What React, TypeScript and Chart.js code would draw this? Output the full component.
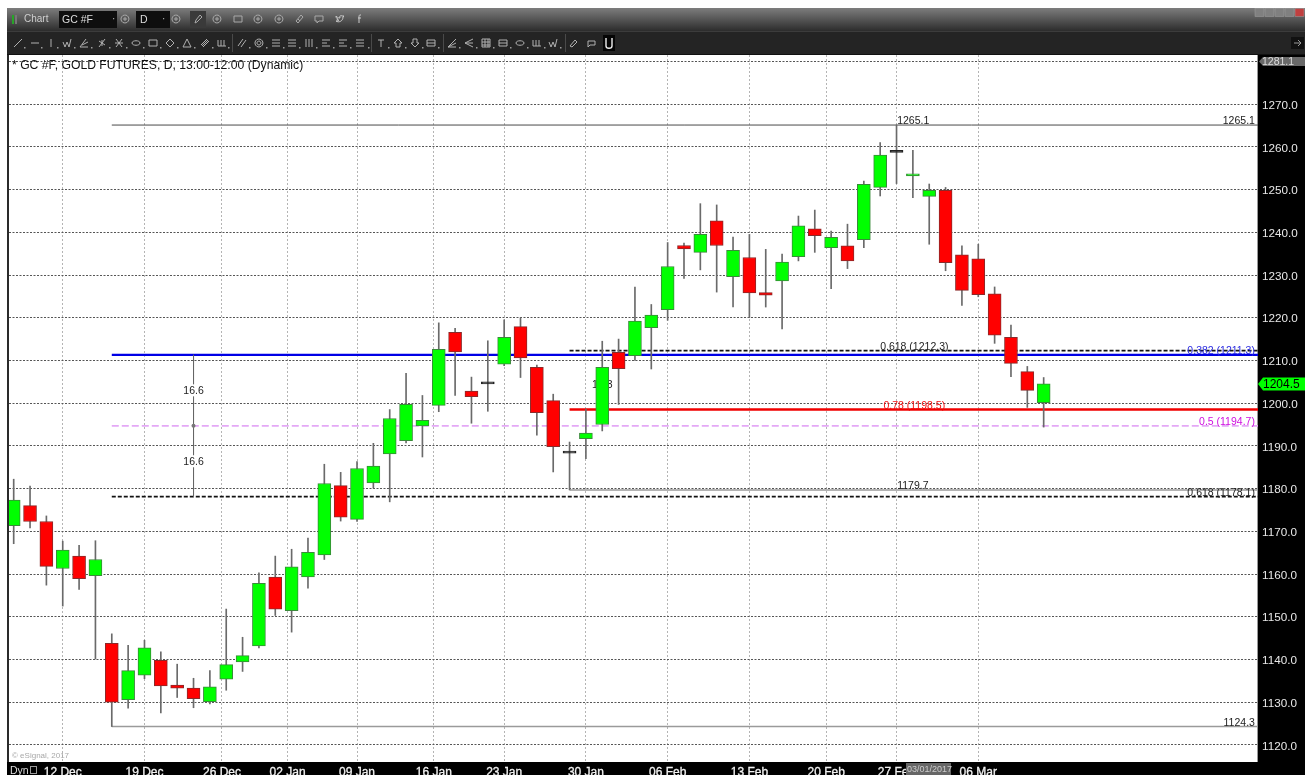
import React, { useEffect, useRef } from "react";
import { Chart, registerables } from "chart.js";

Chart.register(...registerables);

const opens = [1171.3,1176.0,1172.3,1161.3,1164.2,1159.6,1143.8,1130.6,1136.3,1139.8,1134.0,1133.3,1130.1,1135.4,1139.4,1143.2,1159.3,1151.4,1159.3,1164.5,1180.7,1172.8,1181.3,1188.1,1191.2,1194.7,1199.5,1216.6,1202.8,1204.5,1209.1,1217.9,1208.4,1200.6,1188.3,1191.7,1195.0,1211.9,1211.1,1217.7,1221.9,1236.9,1235.3,1242.7,1229.6,1234.1,1225.9,1228.6,1234.3,1240.8,1236.4,1236.8,1238.3,1250.5,1258.7,1253.2,1248.4,1249.8,1234.7,1233.8,1225.6,1215.4,1207.4,1200.1];
const closes = [1177.3,1172.3,1161.8,1165.6,1158.9,1163.4,1130.0,1137.4,1142.7,1133.8,1133.3,1130.8,1133.6,1138.8,1140.9,1157.8,1151.8,1161.7,1165.1,1181.2,1173.3,1184.7,1185.3,1196.4,1199.7,1196.0,1212.6,1212.0,1201.5,1204.5,1215.4,1210.6,1197.8,1189.8,1188.3,1193.0,1208.4,1208.1,1219.2,1220.6,1232.0,1236.1,1239.5,1236.9,1235.8,1225.8,1225.3,1233.0,1241.5,1239.2,1238.8,1233.3,1251.2,1258.1,1258.7,1253.7,1249.8,1232.9,1226.4,1225.4,1215.9,1209.3,1203.0,1204.5];
const highs = [1182.2,1180.6,1173.6,1167.7,1166.7,1167.8,1146.0,1143.3,1144.5,1141.8,1138.9,1135.6,1137.4,1151.8,1145.2,1160.3,1164.2,1165.8,1168.4,1185.7,1183.8,1186.3,1190.6,1198.5,1207.0,1201.8,1218.8,1217.5,1206.1,1214.6,1219.5,1220.0,1208.9,1202.1,1190.9,1198.6,1214.5,1215.0,1227.2,1223.1,1237.6,1237.5,1246.7,1246.4,1238.9,1239.5,1236.0,1234.9,1243.8,1245.2,1240.3,1241.9,1252.0,1261.0,1265.1,1259.2,1251.3,1250.5,1236.8,1237.2,1227.2,1218.3,1208.6,1206.0];
const lows = [1167.1,1170.8,1157.4,1152.5,1156.4,1140.1,1124.3,1128.6,1135.5,1127.5,1131.1,1128.7,1129.6,1132.8,1137.2,1142.7,1150.3,1146.4,1156.7,1163.4,1172.4,1172.3,1180.1,1176.9,1190.7,1187.4,1198.0,1201.8,1195.3,1198.1,1208.8,1206.0,1192.5,1183.9,1179.7,1187.0,1193.5,1199.7,1210.0,1208.0,1219.4,1229.2,1231.2,1226.0,1222.5,1220.0,1222.5,1217.4,1233.3,1235.3,1226.8,1231.5,1236.4,1248.5,1251.4,1248.1,1237.2,1231.0,1222.9,1224.9,1214.0,1206.2,1199.0,1194.4];

const dateLabels = ["12 Dec","19 Dec","26 Dec","02 Jan","09 Jan","16 Jan","23 Jan","30 Jan","06 Feb","13 Feb","20 Feb","27 Feb","06 Mar"];
const dateTickPositions = [3,8,12.74,16.75,21,25.7,30,35,40,45,49.7,54,59];
const priceTicks = [1120,1130,1140,1150,1160,1170,1180,1190,1200,1210,1220,1230,1240,1250,1260,1270,1280];

const levelNames = ["high","low","swingLow","blue382","black618Up","red78","magenta50","black618Down"];
const levelPrices = [1265.1,1124.3,1179.7,1211.3,1212.3,1198.5,1194.7,1178.1];
const levelStarts = [6,6,34,6,34,34,6,6];

const measureValues = [1211.3,1194.7,1178.1];
const measureIndex = 11;

const chartLabels = [
  { text: "1265.1", price: 1265.1, at: 54.04, color: "#222", align: "left" },
  { text: "1265.1", price: 1265.1, at: 75.92, color: "#222", align: "right" },
  { text: "1179.7", price: 1179.7, at: 54.04, color: "#222", align: "left" },
  { text: "1124.3", price: 1124.3, at: 75.92, color: "#222", align: "right" },
  { text: "0.618 (1212.3)", price: 1212.3, at: 53, color: "#222", align: "left" },
  { text: "0.382 (1211.3)", price: 1211.3, at: 75.92, color: "#2a2ae0", align: "right" },
  { text: "0.78 (1198.5)", price: 1198.5, at: 53.2, color: "#f01010", align: "left" },
  { text: "0.5 (1194.7)", price: 1194.7, at: 75.92, color: "#d010e0", align: "right" },
  { text: "0.618 (1178.1)", price: 1178.1, at: 75.92, color: "#222", align: "right" },
];
const measureLabels = [
  { text: "16.6", price: 1203.0 },
  { text: "16.6", price: 1186.4 },
];
const hiddenLabel = { text: "16.3", price: 1204.2, at: 36 };
const lastPrice = "1204.5";
const topPrice = "1281.1";
const cursorDate = "03/01/2017";

const FONT = '"Liberation Sans", Arial, sans-serif';
const GREEN = "#00ff00";
const RED = "#ff0000";
const X_MIN = -0.287;
const X_MAX = 76.11;

const levelStyle: Record<string, any> = {
  high: { borderColor: "#4a4a4a", borderWidth: 1 },
  low: { borderColor: "#9a9a9a", borderWidth: 1.5 },
  swingLow: { borderColor: "#9a9a9a", borderWidth: 1.5 },
  blue382: { borderColor: "#0000e6", borderWidth: 2.4 },
  black618Up: { borderColor: "#111", borderWidth: 1.8, borderDash: [4, 2] },
  red78: { borderColor: "#f00000", borderWidth: 2.6 },
  magenta50: { borderColor: "#e4a8f6", borderWidth: 1.8, borderDash: [7, 3] },
  black618Down: { borderColor: "#111", borderWidth: 1.8, borderDash: [4, 2] },
};

const chromePlugin = {
  id: "chrome",
  beforeDraw(chart: any) {
    const { ctx, chartArea: a, width, height } = chart;
    ctx.save();
    ctx.fillStyle = "#000";
    ctx.fillRect(7, a.bottom, width - 7, height - a.bottom);
    ctx.fillRect(a.right, a.top, width - a.right, a.bottom - a.top);
    ctx.fillStyle = "#2a2a2a";
    ctx.fillRect(7, a.top, 2, a.bottom - a.top);
    ctx.fillStyle = "#fff";
    ctx.fillRect(a.left, a.top, a.right - a.left, a.bottom - a.top);
    ctx.fillStyle = "#999";
    ctx.fillRect(a.right - 1, a.top, 1, a.bottom - a.top);
    ctx.restore();
  },
  beforeDatasetsDraw(chart: any) {
    const { ctx, scales } = chart;
    ctx.save();
    ctx.font = `10.5px ${FONT}`;
    ctx.fillStyle = "#222";
    ctx.textAlign = "center";
    ctx.textBaseline = "middle";
    ctx.fillText(hiddenLabel.text, scales.x.getPixelForValue(hiddenLabel.at), scales.y.getPixelForValue(hiddenLabel.price));
    ctx.restore();
  },
  afterDatasetsDraw(chart: any) {
    const { ctx, scales, chartArea: a } = chart;
    const { x, y } = scales;
    ctx.save();
    ctx.font = `10.5px ${FONT}`;
    ctx.textBaseline = "alphabetic";
    chartLabels.forEach((l) => {
      ctx.fillStyle = l.color;
      ctx.textAlign = l.align as CanvasTextAlign;
      ctx.fillText(l.text, x.getPixelForValue(l.at), y.getPixelForValue(l.price) - 1);
    });
    ctx.textAlign = "center";
    ctx.textBaseline = "middle";
    measureLabels.forEach((l) => {
      const px = x.getPixelForValue(measureIndex);
      const py = y.getPixelForValue(l.price);
      ctx.fillStyle = "#fff";
      ctx.fillRect(px - 11, py - 6, 22, 12);
      ctx.fillStyle = "#222";
      ctx.fillText(l.text, px, py + 1);
    });
    ctx.textAlign = "left";
    ctx.fillStyle = "#111";
    ctx.font = `12.2px ${FONT}`;
    ctx.fillText("* GC #F, GOLD FUTURES, D, 13:00-12:00 (Dynamic)", a.left + 3, a.top + 11);
    ctx.fillStyle = "#a8a8a8";
    ctx.font = `8px ${FONT}`;
    ctx.fillText("\u00a9 eSignal, 2017", a.left + 3, 756);

    ctx.fillStyle = "#6a6a6a";
    ctx.beginPath();
    ctx.moveTo(a.right + 1, 61.5);
    ctx.lineTo(a.right + 5, 57);
    ctx.lineTo(1305, 57);
    ctx.lineTo(1305, 66);
    ctx.lineTo(a.right + 5, 66);
    ctx.closePath();
    ctx.fill();
    ctx.fillStyle = "#ddd";
    ctx.font = `10.5px ${FONT}`;
    ctx.fillText(topPrice, a.right + 4, 62);

    const last = y.getPixelForValue(Number(lastPrice));
    ctx.fillStyle = GREEN;
    ctx.beginPath();
    ctx.moveTo(a.right, last);
    ctx.lineTo(a.right + 5, last - 6.5);
    ctx.lineTo(1305, last - 6.5);
    ctx.lineTo(1305, last + 6.5);
    ctx.lineTo(a.right + 5, last + 6.5);
    ctx.closePath();
    ctx.fill();
    ctx.fillStyle = "#000";
    ctx.font = `12px ${FONT}`;
    ctx.fillText(lastPrice, a.right + 5, last + 0.5);

    ctx.fillStyle = "#666";
    ctx.fillRect(906, a.bottom + 1, 45, 13);
    ctx.fillStyle = "#ccc";
    ctx.font = `9px ${FONT}`;
    ctx.fillText(cursorDate, 907, a.bottom + 8);

    ctx.fillStyle = "#000";
    ctx.fillRect(9, a.bottom + 1, 31, 13);
    ctx.fillStyle = "#ddd";
    ctx.font = `10.5px ${FONT}`;
    ctx.fillText("Dyn", 10, a.bottom + 9);
    ctx.strokeStyle = "#999";
    ctx.strokeRect(30.5, a.bottom + 4.5, 6, 7);
    ctx.restore();
  },
};

/* toolbar glyphs: small icon shapes, drawn in a 10x10 box */
const G: Record<string, string> = {
  slash: "M1 9L9 1",
  dash: "M1 5H9",
  bar: "M5 1V9",
  check: "M1 4L3 9L5 4L7 9L9 1",
  angle: "M1 9H9M1 9L7 1M3 7L9 4",
  star: "M2 9L8 1M2 3L8 7M5 2V8",
  cross: "M2 1L8 9M2 9L8 1M1 5H9",
  oval: "M1 5C1 2 9 2 9 5C9 8 1 8 1 5Z",
  square: "M1 2H9V8H1Z",
  diamond: "M5 1L9 5L5 9L1 5Z",
  tri: "M5 1L9 9H1Z",
  band: "M1 7L7 1M3 9L9 3M2 8L8 2",
  wave: "M1 2V8M4 2V8M7 2V8M1 8H9",
  dbl: "M1 8L6 1M4 9L9 2",
  target: "M5 1A4 4 0 1 1 4.9 1M5 3A2 2 0 1 1 4.9 3",
  lines3: "M1 2H9M1 5H9M1 8H9",
  vlines: "M2 1V9M5 1V9M8 1V9",
  lines2: "M1 2H9M1 8H9M1 5H6",
  T: "M2 2H8M5 2V9",
  up: "M5 1L9 5H7V9H3V5H1Z",
  down: "M5 9L1 5H3V1H7V5H9Z",
  block: "M1 2H9V8H1ZM1 5H9",
  fan: "M1 9L9 1M1 9L9 5M1 9H9",
  fan2: "M9 1L1 5L9 9M9 5H1",
  grid: "M1 1H9V9H1ZM4 1V9M7 1V9M1 4H9M1 7H9",
  eraser: "M2 8L7 2L9 4L4 9Z",
  note: "M1 3H8V7H3L1 9Z",
  circleQ: "M5 1A4 4 0 1 1 4.9 1M4 4H6V6H4Z",
  pencil: "M2 9L3 6L7 1L9 3L4 8Z",
  link: "M2 7L4 9L9 3L7 1ZM4 5L6 7",
  bubble: "M1 2H9V7H5L3 9V7H1Z",
  bird: "M1 7C4 9 8 7 8 3L9 2L7 2C6 1 4 2 5 4C3 4 2 3 1 2C1 4 2 5 3 5L2 5C2 6 3 6 4 6C3 7 2 7 1 7Z",
  f: "M6 1H5C4 1 4 2 4 3V9M3 4H6",
};

const row1Icons: [string, number][] = [
  ["circleQ", 125], ["circleQ", 176], ["pencil", 198], ["circleQ", 217], ["square", 238],
  ["circleQ", 258], ["circleQ", 279], ["link", 299], ["bubble", 319], ["bird", 340], ["f", 360],
];
const row2Icons: [string, number][] = [
  ["slash",18],["dash",35],["bar",51],["check",67],["angle",84],["star",102],["cross",119],["oval",136],["square",153],["diamond",170],["tri",187],["band",205],["wave",222],
  ["dbl",242],["target",259],["lines3",276],["lines3",292],["vlines",309],["lines2",326],["lines2",343],["lines3",360],
  ["T",381],["up",398],["down",415],["block",431],
  ["fan",452],["fan2",469],["grid",486],["block",503],["oval",520],["wave",537],["check",553],
  ["eraser",573],["note",592],
];
const row2Arrows = [24,41,57,74,91,109,126,143,160,177,194,212,228,249,266,283,299,316,333,350,368,388,405,422,438,459,476,493,510,527,544,560];
const row2Seps = [232, 371, 443, 565];

function Icon({ name, cx, cy, color = "#b0b0b0" }: { name: string; cx: number; cy: number; color?: string }) {
  return (
    <path
      d={G[name]}
      transform={`translate(${cx - 5},${cy - 5})`}
      fill="none"
      stroke={color}
      strokeWidth={1}
    />
  );
}

function Toolbar() {
  const label: React.CSSProperties = { position: "absolute", fontFamily: FONT, whiteSpace: "pre" };
  const box: React.CSSProperties = { position: "absolute", background: "#0e0e0e", height: 17, top: 11 };
  return (
    <div style={{ position: "absolute", left: 7, right: 0, top: 8, height: 47, filter: "blur(0.35px)" }}>
      <div style={{ position: "absolute", left: 0, right: 0, top: 0, height: 23, background: "linear-gradient(#7d7d7d,#2c2c2c)" }} />
      <div style={{ position: "absolute", left: 0, right: 0, top: 23, height: 24, background: "#242424", borderTop: "1px solid #3c3c3c", boxSizing: "border-box" }} />
      <div style={{ position: "absolute", left: 0, right: 0, top: 46, height: 1, background: "#111" }} />
      <div style={{ ...box, left: 5, top: 7, width: 2, height: 9, background: "#27a527" }} />
      <div style={{ ...box, left: 8, top: 7, width: 2, height: 9, background: "#777" }} />
      <div style={{ ...label, left: 17, top: 4, fontSize: 10, color: "#cfcfcf", lineHeight: "14px" }}>Chart</div>
      <div style={{ ...box, left: 52, top: 3, width: 58, color: "#ddd" }} />
      <div style={{ ...label, left: 55, top: 4, fontSize: 10.5, color: "#ddd", lineHeight: "15px" }}>GC #F</div>
      <div style={{ ...label, left: 105, top: 3, fontSize: 10, color: "#bbb", lineHeight: "15px" }}>{"\u00b7"}</div>
      <div style={{ ...box, left: 129, top: 3, width: 34 }} />
      <div style={{ ...label, left: 133, top: 4, fontSize: 10.5, color: "#ddd", lineHeight: "15px" }}>D</div>
      <div style={{ ...label, left: 155, top: 3, fontSize: 10, color: "#bbb", lineHeight: "15px" }}>{"\u00b7"}</div>
      <div style={{ ...box, left: 183, top: 3, width: 16, background: "#3a3a3a" }} />
      <svg width={1298} height={47} style={{ position: "absolute", left: 0, top: 0 }}>
        {row1Icons.map(([n, x], i) => (
          <Icon key={i} name={n} cx={x - 7} cy={11} color={n === "f" || n === "bird" ? "#ccc" : "#a8a8a8"} />
        ))}
        {row2Icons.map(([n, x], i) => (
          <Icon key={i} name={n} cx={x - 7} cy={35} />
        ))}
        {row2Arrows.map((x, i) => (
          <rect key={i} x={x - 7} y={39} width={1.5} height={1.5} fill="#999" />
        ))}
        {row2Seps.map((x, i) => (
          <rect key={i} x={x - 7} y={26} width={1} height={18} fill="#4a4a4a" />
        ))}
        <rect x={596} y={27} width={12} height={16} fill="#050505" />
        <path d="M599 30V38C599 41 605 41 605 38V30" fill="none" stroke="#eee" strokeWidth={1.4} />
        <rect x={1284} y={29} width={13} height={12} fill="#111" />
        <path d="M1287 35H1294M1291 32L1294 35L1291 38" stroke="#999" fill="none" />
        {["#808080", "#808080", "#808080", "#808080", "#c04040"].map((c, i) => (
          <rect key={i} x={1248 + i * 10} y={0.5} width={9} height={8} fill={c} stroke="#a0a0a0" strokeWidth={0.5} />
        ))}
      </svg>
    </div>
  );
}

export default function App() {
  const ref = useRef<HTMLCanvasElement>(null);
  useEffect(() => {
    if (!ref.current) return;
    const levelSets = levelNames.map((name, i) => ({
      type: "line" as const,
      label: name,
      data: [
        { x: levelStarts[i], y: levelPrices[i] },
        { x: X_MAX, y: levelPrices[i] },
      ],
      pointRadius: 0,
      order: 10,
      ...levelStyle[name],
    }));
    const chart = new Chart(ref.current, {
      type: "bar",
      data: {
        datasets: [
          ...levelSets,
          {
            type: "line" as const,
            label: "measure",
            data: measureValues.map((v) => ({ x: measureIndex, y: v })),
            borderColor: "#666",
            borderWidth: 1,
            pointRadius: [0, 2, 0],
            pointBackgroundColor: "#777",
            pointBorderWidth: 0,
            order: 9,
          },
          {
            type: "bar" as const,
            label: "wicks",
            data: highs.map((h, i) => ({ x: i, y: [lows[i], h] })),
            backgroundColor: "#6a6a6a",
            borderWidth: 0,
            barThickness: 1,
            grouped: false,
            order: 5,
          },
          {
            type: "bar" as const,
            label: "bodies",
            data: opens.map((o, i) => ({ x: i, y: [o, closes[i]] })),
            backgroundColor: opens.map((o, i) => (closes[i] === o ? "#222" : closes[i] > o ? GREEN : RED)),
            borderColor: opens.map((o, i) => (closes[i] === o ? "#222" : closes[i] > o ? "#3a8a3a" : "#8a2a2a")),
            borderWidth: 1,
            borderSkipped: false,
            barThickness: 13,
            minBarLength: 2,
            grouped: false,
            order: 1,
          },
        ] as any,
      },
      options: {
        responsive: false,
        animation: false,
        devicePixelRatio: 1,
        events: [],
        layout: { padding: { left: 9, top: 55, right: 0, bottom: 0 } },
        plugins: { legend: { display: false }, tooltip: { enabled: false }, title: { display: false } },
        scales: {
          x: {
            type: "linear",
            offset: false,
            min: X_MIN,
            max: X_MAX,
            afterFit(s: any) { s.height = 13; },
            afterBuildTicks(s: any) { s.ticks = dateTickPositions.map((value) => ({ value })); },
            grid: { color: "#b4b4b4", lineWidth: 1, drawTicks: false, offset: false },
            border: { display: false, dash: [2, 2] },
            ticks: {
              autoSkip: false,
              maxRotation: 0,
              padding: 3,
              color: "#f2f2f2",
              textStrokeColor: "#f2f2f2",
              textStrokeWidth: 0.3,
              font: { family: FONT, size: 12 },
              callback: (_v: any, i: number) => dateLabels[i],
            },
          },
          y: {
            type: "linear",
            position: "right",
            min: 1116,
            max: 1281.5,
            afterFit(s: any) { s.width = 47; },
            afterBuildTicks(s: any) { s.ticks = priceTicks.map((value) => ({ value })); },
            afterUpdate(s: any) {
              const proto = Object.getPrototypeOf(s);
              s.getLabelItems = (area: any) =>
                proto.getLabelItems.call(s, area).map((it: any) => ({
                  ...it,
                  options: {
                    ...it.options,
                    translation: [it.options.translation[0], it.options.translation[1] + 1.5],
                  },
                }));
            },
            grid: { color: "#555", lineWidth: 1, drawTicks: false },
            border: { display: false, dash: [2, 1.5] },
            ticks: {
              autoSkip: false,
              padding: 4,
              color: "#e8e8e8",
              font: { family: FONT, size: 11.7 },
              callback: (v: any) => (v === 1280 ? "" : Number(v).toFixed(1)),
            },
          },
        },
      } as any,
      plugins: [chromePlugin],
    });
    return () => chart.destroy();
  }, []);
  return (
    <div style={{ position: "fixed", left: 0, top: 0, width: 1305, height: 775, overflow: "hidden", background: "#fff" }}>
      <canvas ref={ref} width={1305} height={775} style={{ display: "block", filter: "blur(0.35px)" }} />
      <Toolbar />
    </div>
  );
}
